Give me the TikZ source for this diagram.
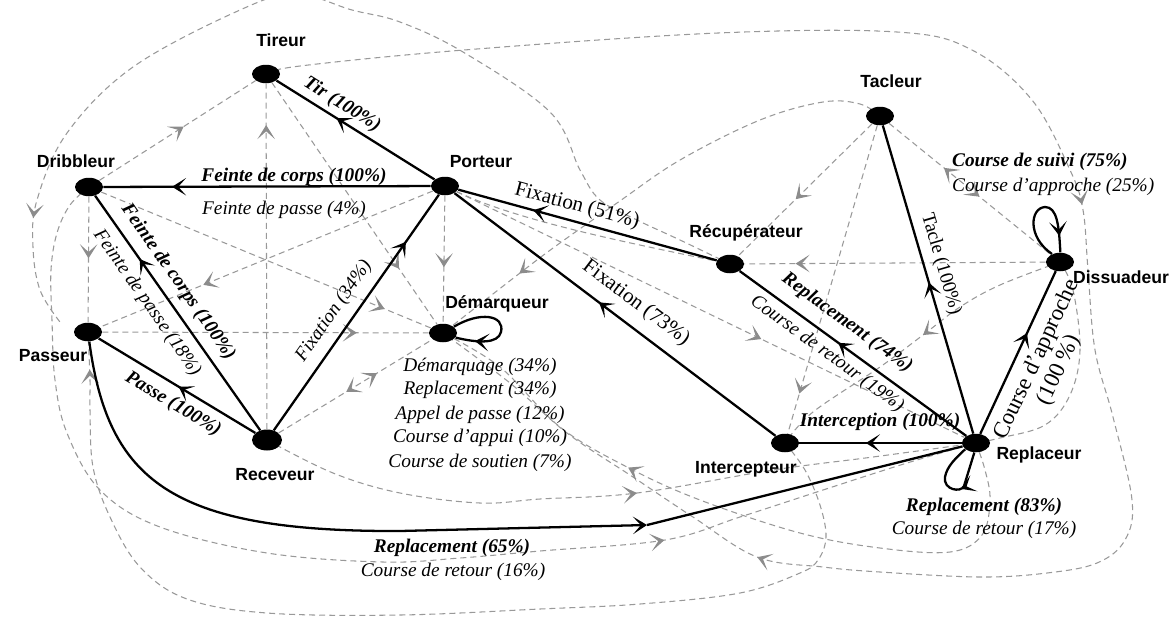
\documentclass[tikz,border=0pt]{standalone}
\usepackage{fontspec}
\setmainfont{Liberation Serif}
\newfontfamily\lblfont{Liberation Sans}
\usetikzlibrary{shapes.geometric, arrows.meta, decorations.markings}
\pgfdeclarelayer{bg}
\pgfdeclarelayer{edges}
\pgfsetlayers{bg,edges,main}
\definecolor{dgray}{gray}{0.6}
\definecolor{agray}{gray}{0.55}
\tikzset{
  dot/.style={ellipse, fill=black, minimum width=0.56cm, minimum height=0.37cm, inner sep=0pt},
  plabel/.style={font=\lblfont\bfseries\fontsize{10}{12}\selectfont, anchor=base, inner sep=0pt},
  lbi/.style={font=\fontsize{11}{13}\selectfont\bfseries\itshape, inner sep=1pt},
  lit/.style={font=\fontsize{11}{13}\selectfont\itshape, inner sep=1pt},
  lrm/.style={font=\fontsize{12}{14}\selectfont, inner sep=1pt},
  sedge/.style={line width=1.3pt, draw=black},
  gedge/.style={line width=0.6pt, draw=dgray, dash pattern=on 3.4pt off 2.3pt},
  barr/.style={postaction={decorate, decoration={markings, mark=at position #1 with {\arrow{Stealth[length=8pt,width=10pt,inset=4.5pt]}}}}},
  garr/.style={postaction={decorate, decoration={markings, mark=at position #1 with {\arrow{Stealth[length=8pt,width=10pt,inset=4.5pt,color=agray]}}}}},
  garrr/.style={postaction={decorate, decoration={markings, mark=at position #1 with {\arrowreversed{Stealth[length=8pt,width=10pt,inset=4.5pt,color=agray]}}}}},
}
\begin{document}
\begin{tikzpicture}[x=0.02cm, y=-0.02cm]
\useasboundingbox (0,0) rectangle (1173,623);
\begin{pgfonlayer}{bg}
\fill[white] (0,0) rectangle (1173,623);
\end{pgfonlayer}

% nodes
\node[dot] (Tireur) at (266,74) {};
\node[dot] (Dribbleur) at (89,187) {};
\node[dot] (Porteur) at (445,186) {};
\node[dot] (Passeur) at (88,332) {};
\node[dot, minimum width=0.6cm, minimum height=0.42cm] (Receveur) at (267,440) {};
\node[dot] (Demarqueur) at (443,333) {};
\node[dot] (Recuperateur) at (730,264) {};
\node[dot] (Tacleur) at (880,116) {};
\node[dot] (Dissuadeur) at (1060,262) {};
\node[dot] (Intercepteur) at (785,443) {};
\node[dot] (Replaceur) at (976,443) {};
\coordinate (rp65) at (647,525);
\coordinate (topend) at (60,322);

% node names
\node[plabel] (tTireur) at (281,46) {Tireur};
\node[plabel] (tDribbleur) at (76,167) {Dribbleur};
\node[plabel] (tPorteur) at (481,167) {Porteur};
\node[plabel] (tPasseur) at (53,361) {Passeur};
\node[plabel] (tReceveur) at (275,480) {Receveur};
\node[plabel] (tDemarqueur) at (497,308) {Démarqueur};
\node[plabel] (tRecuperateur) at (746,237) {Récupérateur};
\node[plabel] (tTacleur) at (891,87) {Tacleur};
\node[plabel] (tDissuadeur) at (1121,283) {Dissuadeur};
\node[plabel] (tIntercepteur) at (746,473) {Intercepteur};
\node[plabel] (tReplaceur) at (1039,459) {Replaceur};

\begin{pgfonlayer}{edges}
\clip (0,0) rectangle (1173,623);
% dashed straight connectors
\draw[gedge, garr=0.54] (Dribbleur) -- (Tireur);
\draw[gedge, garr=0.49] (Dribbleur) -- (Passeur);
\draw[gedge, garr=0.86] (Dribbleur) -- (Demarqueur);
\draw[gedge, garr=0.69] (Porteur) -- (Passeur);
\draw[gedge, garr=0.88] (Receveur) -- (Tireur);
\draw[gedge, garr=0.77] (Tireur) -- (Demarqueur);
\draw[gedge, garr=0.56] (Porteur) -- (Demarqueur);
\draw[gedge, garr=0.78] (Passeur) -- (Demarqueur);
\draw[gedge, garr=0.64, garrr=0.44] (Receveur) -- (Demarqueur);
\draw[gedge, garr=0.6] (Porteur) -- (Replaceur);
\draw[gedge, garr=0.57] (Tacleur) -- (Recuperateur);
\draw[gedge, garr=0.87] (Tacleur) -- (Intercepteur);
\draw[gedge, garr=0.56, garrr=0.34] (Tacleur) -- (Dissuadeur);
\draw[gedge, garr=0.83] (Dissuadeur) -- (Recuperateur);
\draw[gedge] (Porteur) .. controls (520,222) and (640,245) .. (Recuperateur);

% dashed curves
\draw[gedge, garr=0.45, garr=0.808] plot[smooth, tension=0.6] coordinates {(Tireur.center) (300,66) (464,50) (718,33) (897,32) (972,50) (1032,100) (1070,170) (1083,210) (1088,270) (1095,350) (1113,417) (1132,500) (1125,540) (1097,563) (1047,573) (980,577) (880,572) (823,567) (757,557) (693,517) (633,477) (567,433) (510,383) (Demarqueur.center)};
\draw[gedge, garr=0.89] plot[smooth, tension=0.6] coordinates {(Recuperateur.center) (680,240) (637,220) (600,200) (580,170) (550,112) (463,52) (400,22) (352,10) (296,-6) (240,10) (133,67) (67,133) (37,200) (33,247) (40,290) (topend)};
\draw[gedge, garr=0.735] plot[smooth, tension=0.6] coordinates {(Dribbleur.center) (70,205) (57,233) (51,270) (52,320) (55,380) (67,433) (100,490) (160,527) (267,553) (383,562) (460,558) (540,551) (665,540) (740,517) (823,490) (907,463) (Replaceur.center)};
\draw[gedge, garr=0.527] plot[smooth, tension=0.6] coordinates {(Receveur.center) (333,473) (400,493) (480,503) (540,499) (637,493) (773,470) (873,457) (Replaceur.center)};
\draw[gedge, garr=0.965] plot[smooth, tension=0.6] coordinates {(Intercepteur.center) (805,470) (820,505) (826,537) (818,560) (800,573) (740,593) (640,604) (540,609) (400,615) (267,613) (187,599) (140,567) (110,517) (93,467) (90,410) (90,380) (Passeur.center)};
\draw[gedge, garr=0.67] plot[smooth, tension=0.6] coordinates {(Replaceur.center) (985,470) (990,500) (982,535) (950,552) (880,548) (800,533) (700,500) (627,467) (560,427) (500,367) (Demarqueur.center)};
\draw[gedge, garr=0.81] plot[smooth, tension=0.6] coordinates {(Tacleur.center) (860,104) (823,102) (760,120) (680,160) (617,203) (560,243) (520,273) (Demarqueur.center)};
\draw[gedge, garr=0.47] plot[smooth, tension=0.6] coordinates {(Dissuadeur.center) (1000,285) (960,307) (923,335) (880,367) (813,412) (Intercepteur.center)};
\draw[gedge] plot[smooth, tension=0.6] coordinates {(Dissuadeur.center) (1073,290) (1080,350) (1070,395) (1045,425) (1000,438) (Replaceur.center)};

% solid connectors
\draw[sedge, barr=0.62] (Porteur) -- (Tireur);
\draw[sedge, barr=0.79] (Porteur) -- (Dribbleur);
\draw[sedge, barr=0.73] (Receveur) -- (Dribbleur);
\draw[sedge, barr=0.49] (Receveur) -- (Passeur);
\draw[sedge, barr=0.80] (Receveur) -- (Porteur);
\draw[sedge, barr=0.71] (Recuperateur) -- (Porteur);
\draw[sedge, barr=0.55] (Intercepteur) -- (Porteur);
\draw[sedge, barr=0.565] (Replaceur) -- (Recuperateur);
\draw[sedge, barr=0.49] (Replaceur) -- (Tacleur);
\draw[sedge, barr=0.62] (Replaceur) -- (Dissuadeur);
\draw[sedge, barr=0.59] (Replaceur) -- (Intercepteur);
\draw[sedge, -{Stealth[length=8pt,width=10pt,inset=4.5pt]}] (Passeur) .. controls (108,480) and (170,532) .. (400,531) -- (rp65);
\draw[sedge] (rp65) -- (Replaceur);
% loops
\draw[sedge, barr=0.82] (Demarqueur.30) .. controls (480,311) and (505,315) .. (501,332) .. controls (498,344) and (478,343) .. (Demarqueur.-20);
\draw[sedge, barr=0.85] (Dissuadeur.135) .. controls (1027,237) and (1030,208) .. (1045,207) .. controls (1057,207) and (1059,225) .. (Dissuadeur.88);
\draw[sedge, barr=0.4] (Replaceur.-100) -- (964,486) .. controls (961,493) and (943,490) .. (945,477) .. controls (947,466) and (956,458) .. (Replaceur.-150);
\end{pgfonlayer}

% edge labels
\node[lbi, rotate=-32] (lTir) at (342,105) {Tir (100\%)};
\node[lbi] (lFc1) at (294,177) {Feinte de corps (100\%)};
\node[lit] (lFp1) at (284,210) {Feinte de passe (4\%)};
\node[lbi, rotate=-55] (lFc2) at (178,282) {Feinte de corps (100\%)};
\node[lit, rotate=-55] (lFp2) at (147,303) {Feinte de passe (18\%)};
\node[lbi, rotate=-31] (lPasse) at (173,404) {Passe (100\%)};
\node[lit, rotate=55] (lFix34) at (334,311) {Fixation (34\%)};
\node[lrm, rotate=-15] (lFix51) at (577,206) {Fixation (51\%)};
\node[lrm, rotate=-37] (lFix73) at (636,303) {Fixation (73\%)};
\node[lbi, rotate=-36] (lRep74) at (847,323) {Replacement (74\%)};
\node[lit, rotate=-36] (lCr19) at (827,354) {Course de retour (19\%)};
\node[font=\fontsize{11}{13}\selectfont, inner sep=1pt, rotate=-73.6] (lTacle) at (941,264) {Tacle (100\%)};
\node[font=\fontsize{13}{14}\selectfont, inner sep=1pt, rotate=65, align=center] (lCa) at (1048,365) {Course d’approche\\(100 \%)};
\node[lbi] (lInt) at (880,422) {Interception (100\%)};
\node[lbi] (lRep65) at (452,548) {Replacement (65\%)};
\node[lit] (lCr16) at (453,572) {Course de retour (16\%)};
\node[lbi] (lRep83) at (984,507) {Replacement (83\%)};
\node[lit] (lCr17) at (984,530) {Course de retour (17\%)};
\node[lbi, anchor=west] (lSuivi) at (950,162) {Course de suivi (75\%)};
\node[lit, anchor=west] (lAppr) at (950,187) {Course d’approche (25\%)};
\node[lit] (lD1) at (480,367) {Démarquage (34\%)};
\node[lit] (lD2) at (480,390) {Replacement (34\%)};
\node[lit] (lD3) at (480,415) {Appel de passe (12\%)};
\node[lit] (lD4) at (480,438) {Course d’appui (10\%)};
\node[lit] (lD5) at (480,463) {Course de soutien (7\%)};
\end{tikzpicture}
\end{document}
